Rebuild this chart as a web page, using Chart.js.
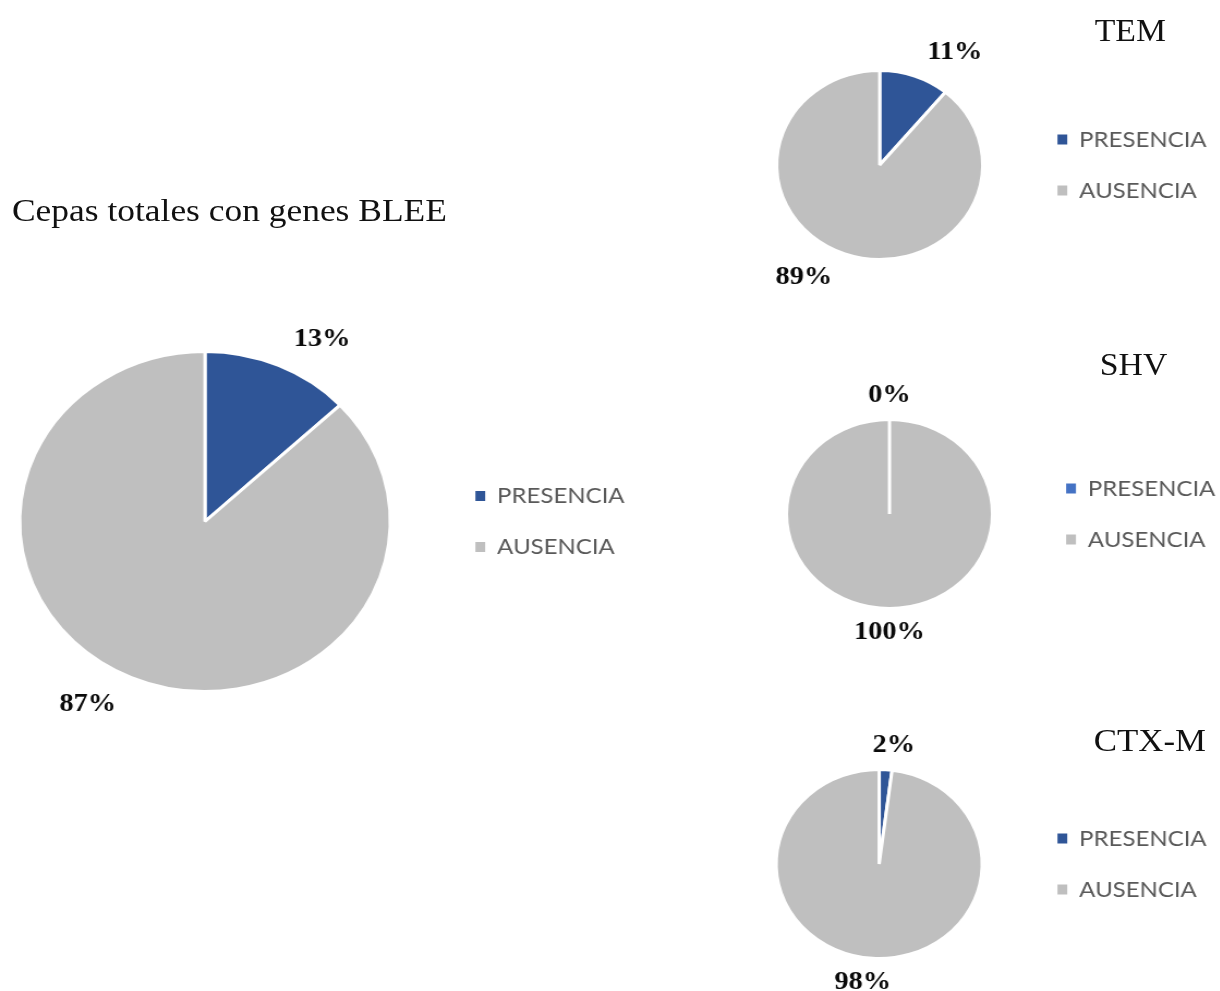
<!DOCTYPE html>
<html>
<head>
<meta charset="utf-8">
<script src="https://cdn.jsdelivr.net/npm/chart.js@4.4.1/dist/chart.umd.min.js"></script>
<style>
  html, body { margin: 0; padding: 0; background: #fff; width: 1220px; height: 991px; overflow: hidden; }
  /* the figure is laid out narrow and stretched horizontally as a whole */
  #page { position: absolute; left: 0; top: 0; width: 1120px; height: 991px; transform: scaleX(1.09); transform-origin: 0 0; }
  .title { position: absolute; font-family: "Liberation Serif", "Times New Roman", serif; font-size: 31px; line-height: 1; color: #111; white-space: nowrap; }
  .main { font-size: 32.5px; }
  .gene { width: 200px; text-align: center; }
  canvas { position: absolute; }
</style>
</head>
<body>
<div id="page">
  <div class="title main" style="left:11px; top:194px;">Cepas totales con genes BLEE</div>
  <div class="title gene" style="left:937px; top:15px;">TEM</div>
  <div class="title gene" style="left:940px; top:349px;">SHV</div>
  <div class="title gene" style="left:955px; top:724px; font-size:32px;">CTX-M</div>
  <canvas id="cTotal"></canvas>
  <canvas id="cTem"></canvas>
  <canvas id="cShv"></canvas>
  <canvas id="cCtx"></canvas>
</div>
<script>
// categories and percentages
const categories = ['PRESENCIA', 'AUSENCIA'];
const totalPct = [13, 87];
const temPct = [11, 89];
const shvPct = [0, 100];
const ctxmPct = [2, 98];

const darkBlue = '#2F5597';
const lightBlue = '#4472C4';
const gray = '#BFBFBF';

const LEGEND_FONT = { family: 'Lato, "Open Sans", sans-serif', size: 22 };
const LEGEND_PAD = 29;
const BOX_W = 9, BOX_H = 10;
const BORDER = 3;

// percentage labels just outside each slice
const valueLabels = {
  id: 'valueLabels',
  afterDatasetsDraw(chart) {
    const ctx = chart.ctx;
    const meta = chart.getDatasetMeta(0);
    const values = chart.data.datasets[0].data;
    ctx.save();
    ctx.font = 'bold 26px "Liberation Serif", "Times New Roman", serif';
    ctx.fillStyle = '#0a0a0a';
    ctx.textAlign = 'center';
    ctx.textBaseline = 'middle';
    meta.data.forEach((arc, i) => {
      const p = arc.getProps(['x', 'y', 'startAngle', 'endAngle', 'outerRadius'], true);
      const mid = (p.startAngle + p.endAngle) / 2;
      const c = Math.cos(mid), s = Math.sin(mid);
      const d = p.outerRadius + 9 + p.outerRadius * 0.05;
      const text = values[i] + '%';
      const w = ctx.measureText(text).width, h = 21;
      const sx = Math.max(-1, Math.min(1, 4 * c));
      const sy = Math.max(-1, Math.min(1, 4 * s));
      ctx.fillText(text, p.x + c * d + sx * (w / 2 + 7), p.y + s * d + sy * h / 2);
    });
    ctx.restore();
  }
};

function legendItemWidth() {
  const m = document.createElement('canvas').getContext('2d');
  m.font = `${LEGEND_FONT.size}px ${LEGEND_FONT.family}`;
  const tw = Math.max(...categories.map(t => m.measureText(t).width));
  return BOX_W + LEGEND_FONT.size / 2 + tw;
}

function makePie(id, values, colors, cx, cy, r, textRight) {
  const canvas = document.getElementById(id);
  const itemW = legendItemWidth();
  const right = textRight + 10;
  const legendLeft = right - (LEGEND_PAD + itemW + 10);
  const left = Math.round(2 * cx - legendLeft);
  const width = Math.round(right - left);
  const height = Math.round(2 * r + 120);
  const top = Math.round(cy - height / 2);
  canvas.width = width;
  canvas.height = height;
  canvas.style.left = left + 'px';
  canvas.style.top = top + 'px';

  return new Chart(canvas, {
    type: 'pie',
    data: {
      labels: categories,
      datasets: [{
        data: values,
        backgroundColor: colors,
        borderColor: '#ffffff',
        borderWidth: BORDER,
        radius: r + BORDER / 2
      }]
    },
    options: {
      responsive: false,
      animation: false,
      events: [],
      layout: { padding: 0 },
      plugins: {
        tooltip: { enabled: false },
        title: { display: false },
        legend: {
          position: 'right',
          align: 'center',
          labels: {
            color: '#595959',
            font: LEGEND_FONT,
            boxWidth: BOX_W,
            boxHeight: BOX_H,
            padding: LEGEND_PAD,
            generateLabels(chart) {
              const base = Chart.overrides.doughnut.plugins.legend.labels.generateLabels(chart);
              return base.map(item => Object.assign({}, item, { lineWidth: 0, strokeStyle: 'rgba(0,0,0,0)', hidden: false }));
            }
          }
        }
      }
    },
    plugins: [valueLabels]
  });
}

makePie('cTotal', totalPct, [darkBlue, gray], 188.1, 521, 168.5, 573.4);
makePie('cTem', temPct, [darkBlue, gray], 807.3, 164.5, 93, 1107.3);
makePie('cShv', shvPct, [lightBlue, gray], 816.1, 514, 93, 1114.7);
makePie('cCtx', ctxmPct, [darkBlue, gray], 806.9, 863.5, 93, 1107.3);
</script>
</body>
</html>
